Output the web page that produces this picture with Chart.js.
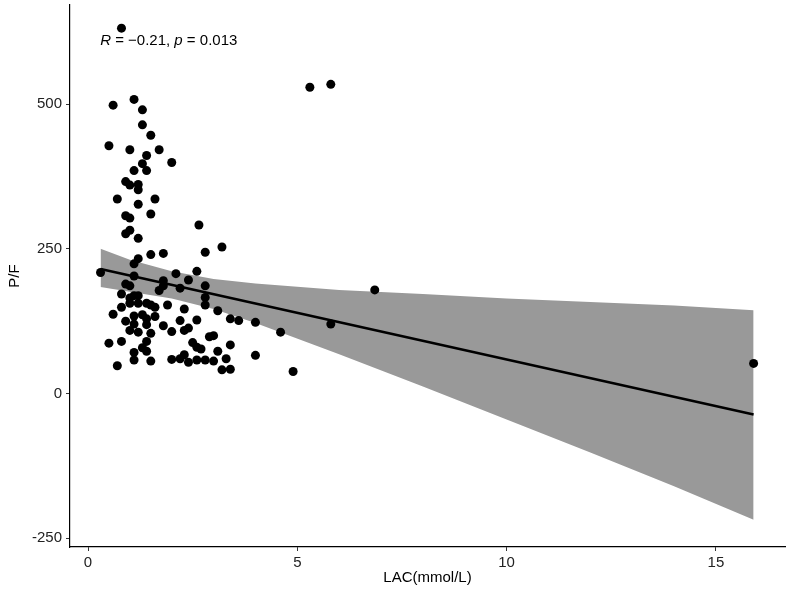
<!DOCTYPE html>
<html lang="en">
<head>
<meta charset="UTF-8">
<title>P/F vs LAC</title>
<style>
    body { margin: 0; background: #ffffff; }
    #wrap { width: 790px; height: 590px; }
</style>
</head>
<body>
<div id="wrap"><canvas id="grafico"></canvas></div>

<script src="https://cdn.jsdelivr.net/npm/chart.js"></script>
<script type="text/javascript">
// scatter values
var lac = [0.8, 5.3, 5.8, 0.6, 1.1, 1.3, 1.3, 1.5, 0.5, 1.0,
           1.7, 1.4, 2.0, 1.3, 1.1, 1.4, 0.9, 1.0, 1.2, 1.2,
           0.7, 1.6, 1.2, 0.9, 1.0, 1.5, 0.9, 1.0, 1.2, 2.65,
           1.5, 1.8, 1.2, 1.1, 0.3, 1.1, 2.1, 2.6, 2.4, 1.8,
           1.8, 2.2, 0.9, 1.0, 1.7, 0.8, 1.1, 1.2, 1.0, 1.0,
           1.2, 1.4, 1.5, 1.6, 1.9, 2.3, 0.8, 0.6, 1.1, 1.3,
           1.4, 1.6, 0.9, 1.1, 1.4, 1.8, 2.2, 2.6, 1.0, 1.2,
           1.5, 2.0, 2.3, 2.4, 0.5, 0.8, 1.4, 2.5, 2.6, 2.7,
           1.3, 1.4, 1.1, 1.1, 1.5, 2.0, 2.2, 2.3, 2.4, 0.7,
           2.6, 2.8, 2.8, 3.1, 3.4, 3.6, 4.0, 4.6, 2.9, 3.0,
           3.4, 3.1, 4.0, 2.8, 3.0, 3.3, 3.2, 3.4, 4.9, 3.2,
           2.8, 2.8, 6.85, 5.8, 15.9];
var pf = [631, 529, 534, 498, 508, 490, 464, 446, 428, 421,
          421, 411, 399, 397, 385, 385, 366, 360, 361, 352,
          336, 336, 327, 307, 303, 310, 276, 282, 268, 291,
          240, 242, 233, 224, 209, 203, 207, 211, 196, 195,
          186, 182, 189, 186, 178, 172, 169, 169, 165, 156,
          156, 156, 153, 149, 153, 146, 149, 137, 134, 136,
          129, 133, 125, 120, 119, 117, 126, 127, 109, 106,
          104, 107, 109, 113, 87, 90, 90, 88, 80, 77,
          79, 73, 71, 58, 56, 59, 60, 67, 54, 48,
          58, 166, 153, 143, 129, 126, 123, 106, 98, 100,
          84, 73, 66, 58, 56, 60, 41, 42, 38, 253,
          244, 186, 179, 120, 52];

// fitted line and confidence band
var fitX = [0.3, 15.9];
var fitY = [215, -36];
var bandX = [0.3, 1, 2, 3, 4, 6, 8, 10, 12, 14, 15.9];
var bandUpper = [250, 231, 211, 198, 190, 179, 172, 164, 158, 152, 144];
var bandLower = [184, 176, 164, 146, 122, 68, 12, -45, -102, -160, -218];

var xTicks = [0, 5, 10, 15];
var yTicks = [-250, 0, 250, 500];
var statPos = [0.29, 609];

function pares(xs, ys) {
    var out = [];
    for (var i = 0; i < xs.length; i++) out.push({x: xs[i], y: ys[i]});
    return out;
}

// R = -0.21, p = 0.013 with italic R and p
var statLabel = {
    id: 'statLabel',
    afterDatasetsDraw: function (chart) {
        var ctx = chart.ctx;
        var px = chart.scales.x.getPixelForValue(statPos[0]);
        var py = chart.scales.y.getPixelForValue(statPos[1]);
        var parts = [
            ['R', true], [' = \u22120.21, ', false], ['p', true], [' = 0.013', false]
        ];
        ctx.save();
        ctx.fillStyle = '#000000';
        ctx.textBaseline = 'middle';
        ctx.textAlign = 'left';
        parts.forEach(function (p) {
            ctx.font = (p[1] ? 'italic ' : '') + '15px "Liberation Sans", Arial, sans-serif';
            ctx.fillText(p[0], px, py);
            px += ctx.measureText(p[0]).width;
        });
        ctx.restore();
    }
};

Chart.defaults.font.family = '"Liberation Sans", Arial, sans-serif';
Chart.defaults.color = '#000000';

var axisGrid = {
    display: true,
    drawOnChartArea: false,
    drawTicks: true,
    tickLength: 4,
    color: '#333333',
    lineWidth: 1
};

new Chart(document.getElementById('grafico'), {
    type: 'scatter',
    data: {
        datasets: [{
            label: 'puntos',
            data: pares(lac, pf),
            pointRadius: 4.5,
            pointHoverRadius: 4.5,
            backgroundColor: '#000000',
            borderWidth: 0
        }, {
            label: 'ajuste',
            data: pares(fitX, fitY),
            showLine: true,
            borderColor: '#000000',
            borderWidth: 2.6,
            pointRadius: 0
        }, {
            label: 'superior',
            data: pares(bandX, bandUpper),
            showLine: true,
            borderWidth: 0,
            borderColor: 'rgba(0,0,0,0)',
            pointRadius: 0,
            fill: '+1',
            backgroundColor: '#999999'
        }, {
            label: 'inferior',
            data: pares(bandX, bandLower),
            showLine: true,
            borderWidth: 0,
            borderColor: 'rgba(0,0,0,0)',
            pointRadius: 0
        }]
    },
    options: {
        responsive: true,
        maintainAspectRatio: false,
        animation: false,
        events: [],
        layout: { padding: { top: 5, right: 5, left: 0, bottom: 0 } },
        plugins: {
            legend: { display: false },
            tooltip: { enabled: false }
        },
        scales: {
            x: {
                type: 'linear',
                min: -0.43,
                max: 16.65,
                grid: axisGrid,
                border: { display: true, color: '#000000', width: 1.2 },
                ticks: { font: { size: 15 }, color: '#222222', padding: 3 },
                afterBuildTicks: function (scale) {
                    scale.ticks = xTicks.map(function (v) { return {value: v}; });
                },
                afterFit: function (scale) {
                    scale.height = 43;
                    scale.paddingLeft = 0;
                    scale.paddingRight = 0;
                },
                title: { display: true, text: 'LAC(mmol/L)', font: { size: 15 }, color: '#000000', padding: { top: 0, bottom: 3 } }
            },
            y: {
                type: 'linear',
                min: -265,
                max: 671,
                grid: axisGrid,
                border: { display: true, color: '#000000', width: 1.2 },
                ticks: { font: { size: 15 }, color: '#222222', padding: 4 },
                afterBuildTicks: function (scale) {
                    scale.ticks = yTicks.map(function (v) { return {value: v}; });
                },
                afterFit: function (scale) {
                    scale.width = 70;
                    scale.paddingTop = 0;
                    scale.paddingBottom = 0;
                },
                title: { display: true, text: 'P/F', font: { size: 15 }, color: '#000000', padding: { top: 6, bottom: 6 } }
            }
        }
    },
    plugins: [statLabel]
});
</script>
</body>
</html>
